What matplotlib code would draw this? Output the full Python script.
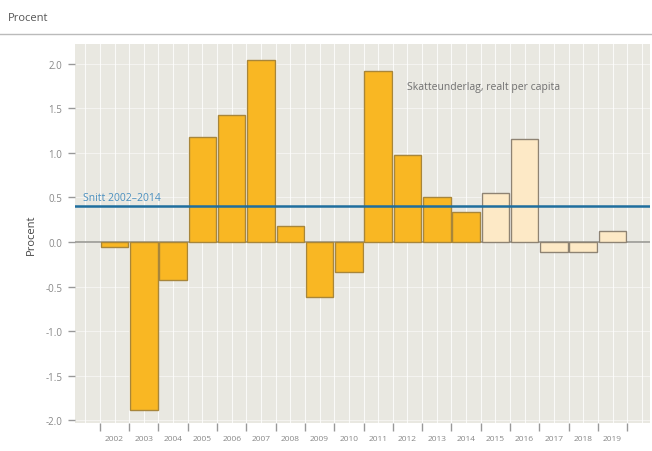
import matplotlib
matplotlib.use("Agg")
import matplotlib.pyplot as plt
from matplotlib.lines import Line2D
import numpy as np

plt.rcParams['font.family'] = ['Open Sans', 'DejaVu Sans']

years = ['2002', '2003', '2004', '2005', '2006', '2007', '2008', '2009', '2010',
         '2011', '2012', '2013', '2014', '2015', '2016', '2017', '2018', '2019']
values = [-0.05, -1.88, -0.43, 1.18, 1.42, 2.04, 0.18, -0.62, -0.34,
          1.92, 0.98, 0.50, 0.34, 0.55, 1.16, -0.11, -0.11, 0.12]
forecast_from = '2015'
average = 0.40
avg_label = 'Snitt 2002–2014'
series_label = 'Skatteunderlag, realt per capita'
yticks = [-2.0, -1.5, -1.0, -0.5, 0.0, 0.5, 1.0, 1.5, 2.0]

fig = plt.figure(figsize=(6.52, 4.52), dpi=100)
fig.patch.set_facecolor('white')
ax = fig.add_axes([0.115, 0.062, 0.882, 0.838])
ax.set_facecolor('#E9E8E1')

x = np.arange(len(years))
fi = years.index(forecast_from)
colors = ['#F9B723' if i < fi else '#FDE9C6' for i in range(len(years))]
edges = ['#A8863A' if i < fi else '#8E8373' for i in range(len(years))]

# grid
for xv in np.arange(-1.5, len(years) + 1, 0.5):
    ax.axvline(xv, color='white', lw=0.8, alpha=0.8, zorder=0)
for yv in yticks:
    ax.axhline(yv, color='white', lw=0.6, alpha=0.6, zorder=0)

ax.axhline(0, color='#9A9A95', lw=1.2, zorder=1)
ax.bar(x, values, width=0.94, color=colors, edgecolor=edges, linewidth=1.0, zorder=2)
ax.axhline(average, color='#1F6E9E', lw=1.8, zorder=3)
ax.text(-1.08, average + 0.04, avg_label, color='#4A8FBF', fontsize=7.5, va='bottom', ha='left', zorder=4)
ax.text(9.98, 1.74, series_label, color='#707070', fontsize=7.5, va='center', ha='left', zorder=4)

ax.set_xlim(-1.35, 18.28)
ax.set_ylim(-2.03, 2.22)
ax.set_yticks(yticks)
ax.set_yticklabels([f'{v:.1f}' for v in yticks], fontsize=7, color='#888888')
ax.tick_params(axis='y', length=5, color='#999999', width=1, pad=4)

ax.set_xticks(np.arange(-0.5, len(years), 1.0))
ax.set_xticklabels([])
ax.set_xticks(x, minor=True)
ax.set_xticklabels(years, minor=True, fontsize=6, color='#888888')
ax.tick_params(axis='x', which='major', length=6, color='#999999', width=1, direction='out')
ax.tick_params(axis='x', which='minor', length=0, pad=9)

for s in ax.spines.values():
    s.set_visible(False)

ax.set_ylabel('Procent', fontsize=8, color='#444444', labelpad=6)

fig.text(0.012, 0.958, 'Procent', fontsize=8, color='#555555', va='center', ha='left')
fig.add_artist(Line2D([0.0, 1.0], [0.922, 0.922], color='#BBBBBB', lw=1.0, transform=fig.transFigure))

fig.savefig('out.png', dpi=100)
